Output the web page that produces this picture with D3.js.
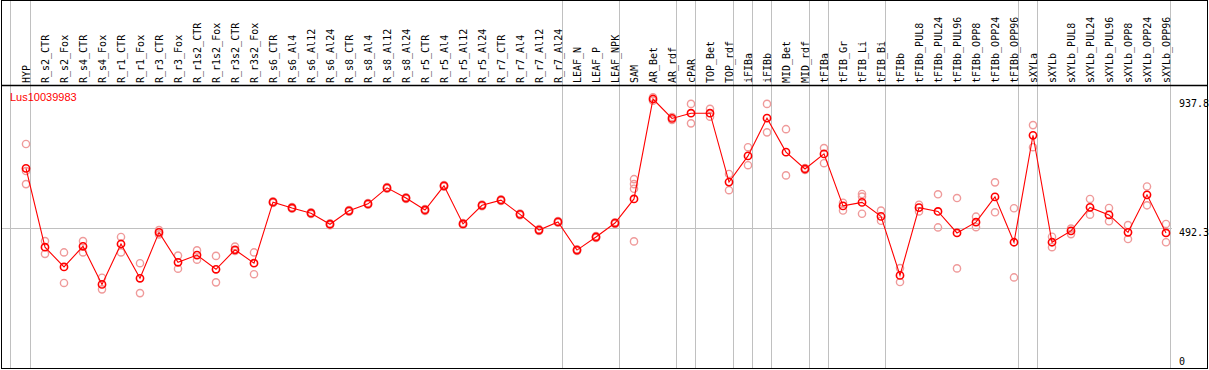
<!DOCTYPE html>
<html>
<head>
<meta charset="utf-8">
<script src="https://cdn.jsdelivr.net/npm/d3@7"></script>
<style>
  body { margin: 0; background: #fff; }
  svg { display: block; }
</style>
</head>
<body>
<div id="chart"></div>
<script>
// gene shown in the panel
const geneName = "Lus10039983";

// sample names, one column each
const categories = [
    "HYP", "R_s2_CTR", "R_s2_Fox", "R_s4_CTR", "R_s4_Fox", "R_r1_CTR", "R_r1_Fox",
    "R_r3_CTR", "R_r3_Fox", "R_r1s2_CTR", "R_r1s2_Fox", "R_r3s2_CTR", "R_r3s2_Fox",
    "R_s6_CTR", "R_s6_Al4", "R_s6_Al12", "R_s6_Al24", "R_s8_CTR", "R_s8_Al4", "R_s8_Al12",
    "R_s8_Al24", "R_r5_CTR", "R_r5_Al4", "R_r5_Al12", "R_r5_Al24", "R_r7_CTR", "R_r7_Al4",
    "R_r7_Al12", "R_r7_Al24", "LEAF_N", "LEAF_P", "LEAF_NPK", "SAM", "AR_Bet", "AR_rdf",
    "cPAR", "TOP_Bet", "TOP_rdf", "iFIBa", "iFIBb", "MID_Bet", "MID_rdf", "tFIBa",
    "tFIB_Gr", "tFIB_Li", "tFIB_Bi", "tFIBb", "tFIBb_PUL8", "tFIBb_PUL24", "tFIBb_PUL96",
    "tFIBb_OPP8", "tFIBb_OPP24", "tFIBb_OPP96", "sXYLa", "sXYLb", "sXYLb_PUL8",
    "sXYLb_PUL24", "sXYLb_PUL96", "sXYLb_OPP8", "sXYLb_OPP24", "sXYLb_OPP96"
];

// mean expression per sample
const meanValues = [
    699, 428, 360, 431, 300, 439, 321, 479, 376, 401, 352, 419, 373,
    583, 563, 545, 507, 553, 577, 632, 597, 556, 639, 508, 572, 590, 541, 487, 515, 418, 463, 511,
    594, 937.8, 871, 889, 889, 652, 742, 872, 755, 697, 749, 570, 582, 534, 331,
    564, 551, 477, 514, 601, 445, 813, 445, 484, 565, 539, 479, 608, 477
];

// individual replicates per sample
const replicateValues = [
    [783, 690, 645], [449, 405], [410, 305], [449, 410], [323, 283], [463, 410], [373, 270],
    [487, 472], [399, 354], [417, 385], [398, 307], [430, 415], [410, 335],
    [586, 580], [566, 560], [548, 542], [510, 504], [556, 550], [580, 574], [635, 629],
    [600, 594], [559, 553], [642, 636], [511, 505], [575, 569], [593, 587], [544, 538],
    [490, 484], [518, 512], [421, 415], [466, 460], [514, 508],
    [662, 645, 629, 448], [944, 932], [876, 866], [921, 854], [904, 877], [680, 624],
    [772, 710], [921, 823], [834, 675], [700, 694], [769, 717], [581, 554], [611, 602, 543],
    [554, 519], [356, 308], [574, 551], [610, 496], [597, 355], [533, 497], [651, 548],
    [562, 324], [848, 772], [464, 428], [492, 473], [594, 540], [563, 517], [504, 456],
    [637, 572], [508, 445]
];

// tissue groups end after these samples
const groupEnds = ["HYP", "R_r7_Al24", "LEAF_NPK", "AR_rdf", "cPAR", "TOP_rdf", "iFIBa",
    "iFIBb", "MID_rdf", "tFIBa", "tFIB_Bi", "tFIBb_OPP96", "sXYLa", "sXYLb_OPP96"];

// right hand value labels, middle one is the reference line
const tickValues = [937.8, 492.3, 0];
const refValue = 492.3;

const width = 1209, height = 370;
const frame = { left: 1.5, top: 0.5, right: 1207.5, bottom: 368.5 };
const headerBottom = 85.5;
const font = "'DejaVu Sans Mono', monospace";

const x = d3.scalePoint()
    .domain(categories)
    .range([26, 1166]);

const y = d3.scaleLinear()
    .domain([0, 937.8])
    .range([371.6, 99]);

const svg = d3.select("#chart")
    .append("svg")
    .attr("width", width)
    .attr("height", height);

// gray separators
svg.append("line")
    .attr("x1", 10.5).attr("x2", 10.5)
    .attr("y1", 0).attr("y2", frame.bottom)
    .attr("stroke", "#c0c0c0");

svg.selectAll(".sep")
    .data(groupEnds)
    .enter()
    .append("line")
    .attr("class", "sep")
    .attr("x1", d => x(d) + 4.5)
    .attr("x2", d => x(d) + 4.5)
    .attr("y1", 0)
    .attr("y2", frame.bottom)
    .attr("stroke", "#c0c0c0");

svg.append("line")
    .attr("x1", frame.left).attr("x2", 1172)
    .attr("y1", Math.round(y(refValue)) + 0.5)
    .attr("y2", Math.round(y(refValue)) + 0.5)
    .attr("stroke", "#c0c0c0");

// frame + header line
svg.append("rect")
    .attr("x", frame.left)
    .attr("y", frame.top)
    .attr("width", frame.right - frame.left)
    .attr("height", frame.bottom - frame.top)
    .attr("fill", "none")
    .attr("stroke", "#000");

svg.append("line")
    .attr("x1", frame.left).attr("x2", frame.right)
    .attr("y1", headerBottom).attr("y2", headerBottom)
    .attr("stroke", "#000")
    .attr("stroke-width", 1.5);

// column labels
svg.selectAll(".collabel")
    .data(categories)
    .enter()
    .append("text")
    .attr("class", "collabel")
    .attr("transform", d => "translate(" + (x(d) + 4) + ",83) rotate(-90)")
    .attr("font-family", font)
    .attr("font-size", "10px")
    .attr("fill", "#000")
    .text(d => d);

// value labels on the right
svg.selectAll(".ylabel")
    .data(tickValues)
    .enter()
    .append("text")
    .attr("class", "ylabel")
    .attr("x", 1179)
    .attr("y", d => Math.min(y(d), 357) + 8)
    .attr("font-family", font)
    .attr("font-size", "10px")
    .attr("fill", "#000")
    .text(d => d);

svg.append("text")
    .attr("x", 10)
    .attr("y", 101)
    .attr("font-family", "'Liberation Sans', Arial, sans-serif")
    .attr("font-size", "11px")
    .attr("fill", "red")
    .text(geneName);

// replicates
const reps = [];
replicateValues.forEach((vals, i) => {
    vals.forEach(v => reps.push({ label: categories[i], value: v }));
});

svg.selectAll(".rep")
    .data(reps)
    .enter()
    .append("circle")
    .attr("class", "rep")
    .attr("cx", d => x(d.label))
    .attr("cy", d => y(d.value))
    .attr("r", 3.6)
    .attr("fill", "none")
    .attr("stroke", "#ef9a9a")
    .attr("stroke-width", 1.4);

// mean line
const means = categories.map((c, i) => ({ label: c, value: meanValues[i] }));

svg.append("path")
    .datum(means)
    .attr("fill", "none")
    .attr("stroke", "red")
    .attr("stroke-width", 1.1)
    .attr("d", d3.line().x(d => x(d.label)).y(d => y(d.value)));

svg.selectAll(".mean")
    .data(means)
    .enter()
    .append("circle")
    .attr("class", "mean")
    .attr("cx", d => x(d.label))
    .attr("cy", d => y(d.value))
    .attr("r", 3.6)
    .attr("fill", "none")
    .attr("stroke", "red")
    .attr("stroke-width", 1.6);
</script>
</body>
</html>
